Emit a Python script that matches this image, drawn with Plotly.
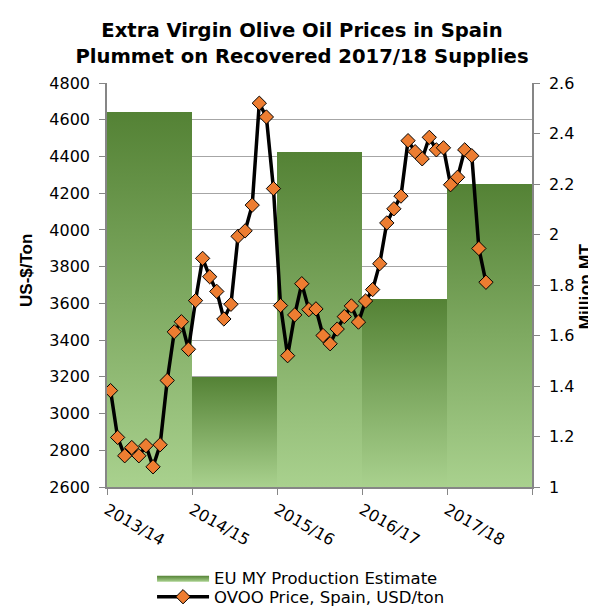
import plotly.graph_objects as go

# ---- data ----
years = ["2013/14", "2014/15", "2015/16", "2016/17", "2017/18"]
production = [2.485, 1.436, 2.327, 1.745, 2.200]  # Million MT

# monthly OVOO price, Spain (USD/ton), Oct 2013 onward
price = [3125, 2870, 2770, 2815, 2770, 2825, 2710, 2830, 3180, 3445, 3500, 3350,
         3615, 3845, 3745, 3665, 3515, 3595, 3965, 3995, 4135, 4690, 4615, 4225,
         3588, 3315, 3537, 3707, 3566, 3570, 3425, 3380, 3460, 3528, 3586, 3498,
         3613, 3675, 3816, 4038, 4115, 4184, 4486, 4426, 4387, 4504, 4436, 4447,
         4246, 4287, 4436, 4404, 3899, 3715]

price_ticks = list(range(2600, 4801, 200))
prod_ticks = [1, 1.2, 1.4, 1.6, 1.8, 2, 2.2, 2.4, 2.6]

DARK = "#548235"
LIGHT = "#A9D18E"
ORANGE = "#ED7D31"
AXIS = "#868686"
GRID = "#A6A6A6"
WIDE = "DejaVu Sans, Verdana, sans-serif"
NARROW = "Liberation Sans, Arial, sans-serif"

fig = go.Figure()

# gradient bars (one filled polygon per marketing year, on the production axis)
for i, (yr, v) in enumerate(zip(years, production)):
    fig.add_trace(go.Scatter(
        x=[i - 0.5, i + 0.5, i + 0.5, i - 0.5, i - 0.5],
        y=[prod_ticks[0], prod_ticks[0], v, v, prod_ticks[0]],
        mode="lines", line=dict(width=0), fill="toself",
        fillgradient=dict(type="vertical", colorscale=[[0, LIGHT], [1, DARK]]),
        name="EU MY Production Estimate", legendgroup="prod", legend="legend",
        showlegend=(i == 0), hoverinfo="skip", yaxis="y"))

# monthly price line (12 months per marketing year)
xm = [-0.5 + (k + 0.5) / 12 for k in range(len(price))]
fig.add_trace(go.Scatter(
    x=xm, y=price, mode="lines+markers", yaxis="y2", legend="legend2",
    name="OVOO Price, Spain, USD/ton",
    line=dict(color="black", width=3.5),
    marker=dict(symbol="diamond", size=11, color=ORANGE,
                line=dict(color="black", width=1))))

tickfont = dict(family=WIDE, size=16, color="black")
common = dict(zeroline=False, showline=True, linecolor=AXIS, linewidth=1.5,
              ticks="outside", ticklen=6, tickcolor=AXIS, tickfont=tickfont,
              automargin=False)
legfont = dict(family=WIDE, size=16.5, color="black")
legcommon = dict(orientation="v", x=0.106, xref="paper", xanchor="left",
                 yanchor="middle", itemwidth=52, font=legfont,
                 bgcolor="rgba(0,0,0,0)")

fig.update_layout(
    width=588, height=599,
    margin=dict(l=99, r=64, t=75, b=120, autoexpand=False),
    paper_bgcolor="white", plot_bgcolor="white",
    font=dict(family=WIDE, color="black"),
    title=dict(text="<b>Extra Virgin Olive Oil Prices in Spain<br>Plummet on Recovered 2017/18 Supplies</b>",
               x=0.5, xref="container", xanchor="center",
               y=0.951, yref="container", yanchor="top",
               font=dict(family=WIDE, size=19.6, color="black")),
    xaxis=dict(range=[-0.5, 4.5], tickmode="array",
               tickvals=[-0.5, 0.5, 1.5, 2.5, 3.5, 4.5],
               ticktext=years + [""], tickangle=30, showgrid=False, **common),
    yaxis=dict(side="right", range=[1, 2.6], tickmode="array",
               tickvals=prod_ticks, ticktext=[str(t) for t in prod_ticks],
               showgrid=False, ticklabelstandoff=6, **common),
    yaxis2=dict(side="left", overlaying="y", range=[2600, 4800],
                tickmode="array", tickvals=price_ticks,
                ticktext=[str(t) for t in price_ticks],
                showgrid=True, gridcolor=GRID, gridwidth=1.3,
                ticklabelstandoff=6, **common),
    legend=dict(y=-0.2252, **legcommon),
    legend2=dict(y=-0.2723, **legcommon),
    showlegend=True,
    annotations=[
        dict(text="<b>US-$/Ton</b>", xref="paper", yref="paper",
             x=-0.188, y=0.535, xanchor="center", yanchor="middle",
             textangle=-90, showarrow=False,
             font=dict(family=NARROW, size=17, color="black")),
        dict(text="<b>Million MT</b>", xref="paper", yref="paper",
             x=1.126, y=0.495, xanchor="center", yanchor="middle",
             textangle=-90, showarrow=False,
             font=dict(family=NARROW, size=17.5, color="black")),
    ],
)

fig.write_html("out.html")
